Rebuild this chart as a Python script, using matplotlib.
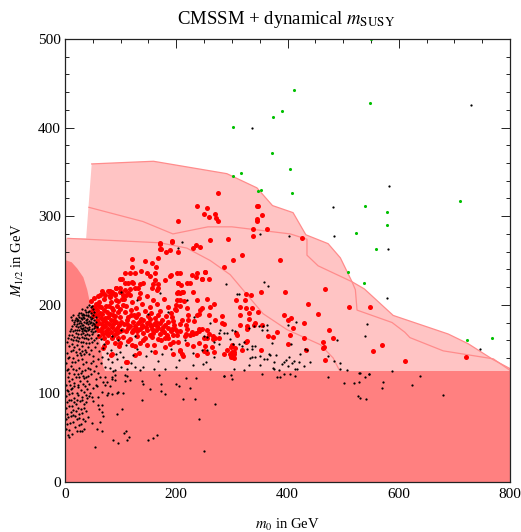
import matplotlib
matplotlib.use("Agg")
import matplotlib.pyplot as plt

plt.rcParams['font.family'] = ['Liberation Serif', 'DejaVu Serif']
plt.rcParams['mathtext.fontset'] = 'stix'

TITLE = r"CMSSM + dynamical $m_{\mathrm{SUSY}}$"
XLABEL = r"$m_0$ in GeV"
YLABEL = r"$M_{1/2}$ in GeV"

# region outlines (m0, M1/2) in GeV
excluded_curve = [(0,250),(3,250),(12,248),(22,241),(33,231),(40,217),(45,202),(52,185),(60,168),(65,150),(69,130),(72,125)]
lep_limit = 125
outer_curve = [(48,359),(159,362),(291,348),(345,332),(373,312),(410,304),(433,279),(473,269),(495,253),(516,226),(538,218),(590,188),(689,167),(725,156),(770,138),(800,128)]
outer_left = [(0,275),(38,275)]
middle_curve = [(43,310),(140,294),(194,280),(257,288),(300,288),(405,280),(435,274),(435,256),(455,244),(516,226),(522,217),(525,194),(588,180),(611,169),(620,163),(680,148),(770,139),(800,126)]
inner_curve = [(5,275),(171,270),(219,264),(243,256),(261,250),(297,234),(356,190),(399,172),(459,155),(482,140),(495,124)]

green_points = [(412,443),(549,428),(390,419),(374,412),(302,401),(372,371),(405,353),(317,349),(302,345),(352,330),(347,328),(408,326),(539,312),(710,317),(579,305),(578,290),(523,281),(509,237),(538,225),(559,263),(723,160),(768,163),(550,500)]

red_points = [
(275,326),(238,312),(256,309),(249,302),(258,299),(269,303),(271,298),(275,295),(204,295),(346,312),(347,311),(355,301),(346,297),(346,295),(338,286),(364,285),(338,278),(426,275),(293,274),(261,273),
(171,269),(193,271),(236,268),(242,265),(231,264),(172,263),(188,262),(182,260),(203,260),(318,256),(302,251),(387,251),(285,243),(251,237),(246,229),(258,229),(326,212),(334,211),(353,215),(396,215),(467,218),(436,201),(511,197),(548,197),(455,190),
(307,205),(324,205),(314,197),(326,196),(337,196),(330,191),(347,192),(315,188),(331,184),(393,189),(400,183),(407,185),(430,180),(341,180),(339,177),(315,177),(327,176),(327,173),(355,177),(409,174),(475,172),(404,166),(382,169),(365,165),(374,164),(430,162),(482,162),(463,158),(466,152),(463,151),(401,156),(433,149),(353,149),(326,158),(307,168),(310,166),(467,138),(721,141),(611,137),(554,148),(570,155),
(300,155),(306,151),(292,149),(300,147),(303,144),(299,143),(302,141),(286,145),(318,149),(327,159),(298,152),(304,147),(296,144),(299,141),(303,140),
(191,234),(202,236),(207,236),(228,234),(237,236),(251,237),(236,231),(246,229),(204,225),(209,222),(219,225),(224,225),(230,214),(202,213),(206,213),(211,214),(201,205),(206,205),(214,204),(200,200),(207,199),(197,195),(199,194),(219,196),(237,205),(255,206),(267,201),(261,197),(246,196),(243,194),(240,190),(222,189),(237,188),(258,188),(282,187),(269,183),(282,180),(285,178),(210,183),(222,183),(232,182),(207,178),(218,177),(220,173),(241,173),(247,173),(240,170),(255,172),(258,167),(266,165),(228,169),(231,167),(236,168),(225,166),(218,167),(207,170),(194,182),(196,177),(192,173),(198,173),(202,170),(194,166),(202,166),(204,158),(194,158),(216,165),(219,156),(231,154),(240,157),(270,162),(277,163),(249,162),(255,163),(266,161),(252,153),(249,148),(264,152),(267,147),(256,146),(237,143),(213,142),(206,148),(210,145),
(171,270),(193,272),(171,263),(121,252),(143,249),(156,247),(168,253),(164,243),(121,243),(126,236),(136,238),(117,236),(108,236),(147,236),(162,236),(189,233),(99,229),(103,229),(120,226),(153,232),(162,228),(180,228),(168,223),(159,223),(156,219),(165,217),(168,219),(108,225),(114,225),(123,225),(135,223),(141,225),(132,219),(125,219),(117,218),(135,213),(114,213),(107,217),(91,219),(81,216),(67,216),(63,211),(72,211),(99,215),(105,211),(90,211),(81,211),(204,225),(204,214),(213,214),
(103,207),(109,199),(116,211),(121,203),(128,196),(133,208),(139,201),(147,210),(152,197),(158,205),(166,201),(171,193),(178,207),(185,198),(190,191),(107,192),(113,186),(119,194),(124,188),(131,190),(137,184),(143,193),(149,187),(155,191),(161,185),(168,188),(174,183),(181,187),(186,181),(192,186),(101,181),(106,178),(111,183),(116,176),(122,181),(127,174),(132,179),(138,177),(141,183),(146,175),(151,180),(156,173),(160,178),(165,176),(170,180),(175,172),(180,177),(185,174),(103,172),(109,170),(114,174),(120,169),(125,176),(130,170),(135,173),(141,168),(148,171),(154,176),(159,168),(164,171),(171,167),(178,169),(184,166),(190,170),(105,164),(117,161),(129,165),(143,162),(157,164),(172,160),(186,162),(112,178),(134,182),(152,184),(128,186),(118,188),(147,179),(163,181),(177,175),(123,172),(139,175),(168,174),
(47,204),(50,198),(52,208),(55,201),(58,194),(60,210),(62,203),(65,197),(67,190),(68,213),(71,206),(73,199),(75,192),(77,186),(78,216),(80,209),(82,203),(84,196),(86,189),(88,183),(89,212),(92,205),(94,199),(96,192),(98,186),(100,214),(48,193),(51,187),(54,190),(57,183),(59,188),(62,180),(64,185),(67,178),(69,183),(72,176),(74,181),(77,173),(79,178),(82,183),(84,175),(87,178),(89,172),(92,181),(94,174),(97,177),(99,170),(56,176),(60,172),(64,170),(68,167),(73,170),(78,166),(83,169),(88,166),(93,168),(54,196),(61,199),(70,194),(79,199),(87,194),(95,204),(63,191),(72,185),(81,190),(90,187),(99,195),(58,178),(66,174),(75,168),(85,163),(95,162),(70,163),(62,165),(104,200),(106,206),(110,211),(99,219),(91,219),(85,215),
(84,144),(69,151),(126,143),(111,136),(133,146),(99,157),(90,157),(114,159),(120,155),(153,166),(168,161),(180,152),(207,149),(195,144),(162,147),(141,160),(135,157),(180,162),(70,153),(82,143),(109,136),(76,158),(97,153),(147,155),(126,153),(160,155),(188,156),
]

black_points = [
(336,400),(730,425),(583,334),(482,310),(484,278),(581,263),(579,208),(543,178),(540,165),(746,150),(588,125),(638,120),(624,110),(680,98),(529,123),(547,122),(540,119),(501,112),(520,112),(529,113),(572,113),(570,106),(527,97),(531,95),(541,94),(495,134),(495,128),(507,126),
(210,271),(203,264),(351,280),(403,278),(290,223),(358,226),(365,221),(309,212),(312,212),(415,181),(401,177),(489,160),(473,142),(484,137),
(279,171),(276,168),(249,165),(286,168),(291,168),(306,170),(296,161),(277,156),(256,164),(267,158),(246,149),(255,149),(268,141),(254,136),(248,133),(302,156),(312,156),(321,158),(318,153),(327,150),(336,154),(342,153),(336,150),(372,157),(406,156),(431,150),(423,144),(435,149),(380,143),(366,144),(369,143),(351,142),(342,141),(336,141),(332,140),(357,139),(363,139),(402,141),(398,138),(393,136),(390,133),(411,137),(421,135),(408,134),(400,131),(441,135),(429,131),(417,128),(414,128),(376,136),(374,129),(376,127),(350,132),(330,132),(321,126),(303,128),(384,126),(393,122),(387,119),(404,122),(414,120),(354,122),(298,121),(285,120),(300,116),(381,118),(473,118),(531,123),(546,122),(339,176),(363,177),(348,176),(356,176),(330,174),(354,171),(363,172),(300,171),
(169,121),(218,117),(236,117),(285,120),(138,114),(141,111),(173,111),(200,111),(205,108),(225,106),(153,105),(173,103),(179,99),(212,94),(234,94),(139,93),(270,88),(240,71),(102,82),(93,77),(109,58),(106,55),(115,51),(111,47),(87,47),(96,44),(150,47),(159,50),(166,53),(54,39),(249,35),(108,121),(111,120),(108,114),(117,115),(90,121),(87,125),(85,119),(63,119),
(95,102),(105,101),(93,100),(85,99),(78,101),(75,98),(90,115),(84,116),(75,113),(72,109),(69,113),(58,108),(51,106),(60,96),(48,96),(51,91),(60,87),(66,87),(62,82),(66,79),(69,74),(63,68),(48,67),(58,60),(67,58),
(43,200),(46,197),(39,197),(49,199),(36,194),(31,195),(41,192),(44,193),(51,195),(28,191),(33,190),(38,188),(47,191),(53,192),(23,189),(26,186),(30,188),(35,185),(41,187),(45,186),(50,189),(55,186),(15,188),(19,185),(11,186),(22,184),(27,182),(31,184),(34,181),(38,183),(43,182),(47,184),(52,183),(56,181),(13,183),(17,181),(21,182),(25,179),(29,180),(33,177),(37,179),(41,178),(45,179),(49,177),(53,178),(16,178),(19,176),(23,175),(27,176),(31,173),(36,175),(40,174),(44,175),(48,173),(52,174),(57,175),(13,176),(11,173),(18,172),(22,171),(26,172),(30,170),(34,171),(38,170),(42,171),(46,170),(50,169),(15,170),(9,170),(20,168),(24,167),(28,167),(32,168),(36,166),(40,167),(44,166),(48,167),(54,170),(7,166),(12,166),(16,164),(21,164),(26,163),(30,164),(34,162),(38,163),(42,161),(46,163),(5,162),(10,161),(14,160),(19,160),(24,159),(28,158),(33,158),(37,157),(43,157),(49,158),(55,163),(60,166),(65,161),(71,156),(58,157),(52,160),
(25,191),(32,186),(37,192),(42,189),(48,185),(29,185),(35,189),(40,184),(46,181),(24,183),(18,183),(30,177),(36,172),(43,173),(39,181),(50,180),(54,176),(28,174),(22,178),(33,174),
(4,158),(8,153),(12,156),(17,152),(22,155),(26,150),(31,153),(36,149),(41,152),(47,149),(54,152),(61,148),(68,151),(75,146),(83,149),(91,144),(99,147),(105,141),(93,139),(85,136),(77,139),(67,141),(59,139),(51,142),(43,144),(34,145),(27,146),(19,147),(11,148),(3,146),(7,141),(15,140),(23,138),(31,139),(38,135),(46,134),(56,131),(64,134),(72,130),(81,129),(90,126),(100,130),(111,127),(118,134),(126,130),(134,126),
(2,134),(10,131),(18,135),(25,129),(36,126),(42,129),(52,125),(3,126),(8,123),(14,127),(23,122),(30,125),(38,119),(47,122),(55,116),(5,118),(12,116),(20,119),(27,114),(35,117),(44,111),(2,110),(9,109),(17,112),(24,107),(32,111),(40,105),(5,103),(13,106),(21,101),(29,104),(37,98),(45,100),(1,97),(8,99),(16,95),(23,98),(31,92),(39,95),(4,90),(11,93),(19,88),(27,91),(35,84),(2,84),(7,86),(15,81),(24,84),(30,78),(38,80),(4,77),(10,79),(18,74),(26,77),(33,71),(42,73),(1,71),(6,73),(14,68),(22,71),(29,66),(36,69),(3,65),(9,67),(18,62),(25,64),(34,60),(1,60),(7,59),(21,57),(7,51),(5,53),(13,54),(30,58),
(28,143),(20,126),(8,114),(24,110),(35,102),(16,90),(28,82),(14,76),(38,90),(22,93),(33,120),(12,100),(40,114),(28,123),(45,128),(12,136),(38,147),(50,137),(60,123),(72,118),(56,110),(80,108),(66,102),(6,128),(17,122),(26,118),(11,105),(30,96),(19,80),(13,86),(25,72),(34,88),(8,92),(16,108),(32,133),(21,143),(42,120),(44,97),(36,108),(3,104),(10,75),(27,58),(5,140),(14,149),(30,148),
(85,165),(95,160),(110,155),(100,172),(125,165),(130,150),(145,142),(155,148),(168,137),(175,145),(190,150),(205,138),(215,160),(230,146),(122,143),(140,130),(160,128),(180,128),(200,130),(230,132),(260,128),(150,190),(130,205),(100,215),(170,213),(220,205),(185,192),(232,186),(260,180),
]

black_x = [p[0] for p in black_points]
black_y = [p[1] for p in black_points]
red_x = [p[0] for p in red_points]
red_y = [p[1] for p in red_points]
green_x = [p[0] for p in green_points]
green_y = [p[1] for p in green_points]

W, H = 521, 532
fig = plt.figure(figsize=(W/100, H/100), dpi=100)
ax = fig.add_axes([65/W, 1-482/H, 445/W, 443/H])
ax.set_xlim(0, 800)
ax.set_ylim(0, 500)

LIGHT = '#FFC4C4'
DARK = '#FF8080'
EDGE = '#FF8C8C'

# allowed band
outline = outer_curve + [(800, 0), (0, 0)] + outer_left
ax.fill([p[0] for p in outline], [p[1] for p in outline], color=LIGHT, lw=0, zorder=1)
for c in (outer_curve, middle_curve, inner_curve):
    ax.plot([p[0] for p in c], [p[1] for p in c], color=EDGE, lw=0.9, zorder=2)

# excluded regions
ax.fill_between([0, 800], [lep_limit]*2, 0, color=DARK, lw=0, zorder=3)
exc = excluded_curve + [(0, 0)]
ax.fill([p[0] for p in exc], [p[1] for p in exc], color=DARK, lw=0, zorder=3)

ax.scatter(red_x, red_y, s=13, c='#FF0000', linewidths=0, zorder=4)
ax.scatter(black_x, black_y, s=2.6, c='#000000', linewidths=0, zorder=5)
ax.scatter(green_x, green_y, s=5, c='#00C000', linewidths=0, zorder=6)

ax.set_xticks([0, 200, 400, 600, 800])
ax.set_yticks([0, 100, 200, 300, 400, 500])
ax.set_xticks(range(0, 801, 50), minor=True)
ax.set_yticks(range(0, 501, 20), minor=True)
ax.tick_params(which='major', direction='in', length=6.5, width=0.7, top=True, right=True,
               labelsize=11, color='#222222', pad=4)
ax.tick_params(which='minor', direction='in', length=3.2, width=0.7, top=True, right=True, color='#222222')
ax.tick_params(axis='y', pad=3)
for s in ax.spines.values():
    s.set_linewidth(0.9)
    s.set_color('#222222')
    s.set_zorder(10)

fig.text(286.5/W, 1-19/H, TITLE, ha='center', va='center', fontsize=13.5)
fig.text(287/W, 1-525/H, XLABEL, ha='center', va='center', fontsize=10.5)
fig.text(18/W, 1-260/H, YLABEL, ha='center', va='center', rotation=90, fontsize=10.5)

fig.savefig('out.png', dpi=100)
